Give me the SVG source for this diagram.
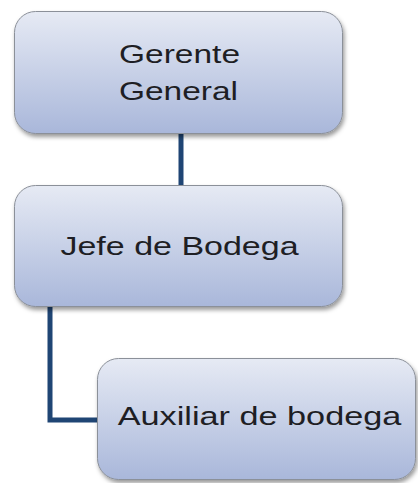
<svg xmlns="http://www.w3.org/2000/svg" width="418" height="483" viewBox="0 0 418 483">
  <defs>
    <linearGradient id="boxGrad" x1="0" y1="0" x2="0" y2="1">
      <stop offset="0" stop-color="#e6eaf4"/>
      <stop offset="1" stop-color="#a9b7da"/>
    </linearGradient>
    <filter id="shadow" x="-10%" y="-10%" width="125%" height="130%">
      <feDropShadow dx="1.5" dy="3" stdDeviation="2" flood-color="#000" flood-opacity="0.4"/>
    </filter>
  </defs>
  <style>
    .box { fill: url(#boxGrad); stroke: #8b9099; stroke-width: 1; filter: url(#shadow); }
    .lbl { font-family: "Liberation Sans", Arial, sans-serif; font-size: 25px; fill: #1e1e24; text-anchor: middle; }
    .conn { fill: none; stroke: #1f4574; stroke-width: 5; }
  </style>
  <rect width="418" height="483" fill="#ffffff"/>
  <g id="connectors">
    <line class="conn" x1="181" y1="133" x2="181" y2="186"/>
    <polyline class="conn" points="50,306 50,420 99,420"/>
  </g>
  <g id="node-gerente">
    <rect class="box" x="14.5" y="11.5" width="328" height="122" rx="21" ry="21"/>
    <text class="lbl" transform="translate(179.5,63) scale(1.34,1)">Gerente</text>
    <text class="lbl" transform="translate(178.5,100) scale(1.34,1)">General</text>
  </g>
  <g id="node-jefe">
    <rect class="box" x="14.5" y="185.5" width="328" height="121" rx="21" ry="21"/>
    <text class="lbl" transform="translate(179.5,255) scale(1.36,1)">Jefe de Bodega</text>
  </g>
  <g id="node-auxiliar">
    <rect class="box" x="97.5" y="358.5" width="318" height="121" rx="21" ry="21"/>
    <text class="lbl" transform="translate(259.5,425) scale(1.37,1)">Auxiliar de bodega</text>
  </g>
</svg>
